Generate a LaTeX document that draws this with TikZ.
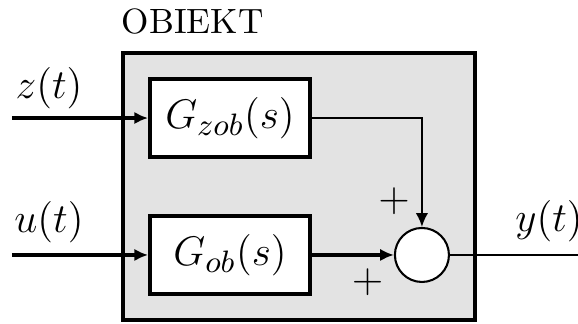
\documentclass[tikz,border=0pt]{standalone}
\usetikzlibrary{arrows.meta}

\begin{document}
\begin{tikzpicture}[font=\fontsize{13}{15}\selectfont,>={Latex[length=4pt,width=3.6pt]},
  blk/.style={draw,line width=1.1pt,fill=white,minimum width=1.632cm,minimum height=0.796cm,inner sep=0pt},
  obj/.style={draw,line width=1.05pt,fill=black!11,minimum width=3.59cm,minimum height=2.723cm},
  sumnode/.style={draw,circle,semithick,fill=white,minimum size=0.551cm,inner sep=0pt},
  sig/.style={inner sep=0pt}]
\useasboundingbox (0,0) rectangle (5.896,-3.305);

%% object with its two blocks
\node[obj] (obiekt) at (3.050,-1.902) {};
\node[anchor=base west,inner sep=0pt,font=\fontsize{10.2}{12}\selectfont] (name) at ([yshift=0.184cm]obiekt.north west) {OBIEKT};
\node[blk] (gzob) at (2.346,-1.204) {$G_{zob}(s)$};
\node[blk] (gob) at (2.346,-2.601) {$G_{ob}(s)$};
\node[sumnode] (sum) at (4.304,-2.601) {};

%% signals
\coordinate (zin) at (0.122,-1.204);
\coordinate (uin) at (0.122,-2.601);
\coordinate (yout) at (5.896,-2.601);
\node[sig] (zlab) at (0.50,-0.898) {$z(t)$};
\node[sig] (ulab) at (0.50,-2.264) {$u(t)$};
\node[sig] (ylab) at (5.60,-2.254) {$y(t)$};
\node[sig] (plus1) at (4.019,-2.050) {$+$};
\node[sig] (plus2) at (3.749,-2.882) {$+$};

%% arrows
\draw[->,line width=0.9pt] (zin) -- (gzob.west);
\draw[->,line width=0.9pt] (uin) -- (gob.west);
\draw[->,semithick] (gzob.east) -| (sum.north);
\draw[->,line width=0.9pt] (gob.east) -- (sum.west);
\draw (sum.east) -- (yout);
\end{tikzpicture}
\end{document}
